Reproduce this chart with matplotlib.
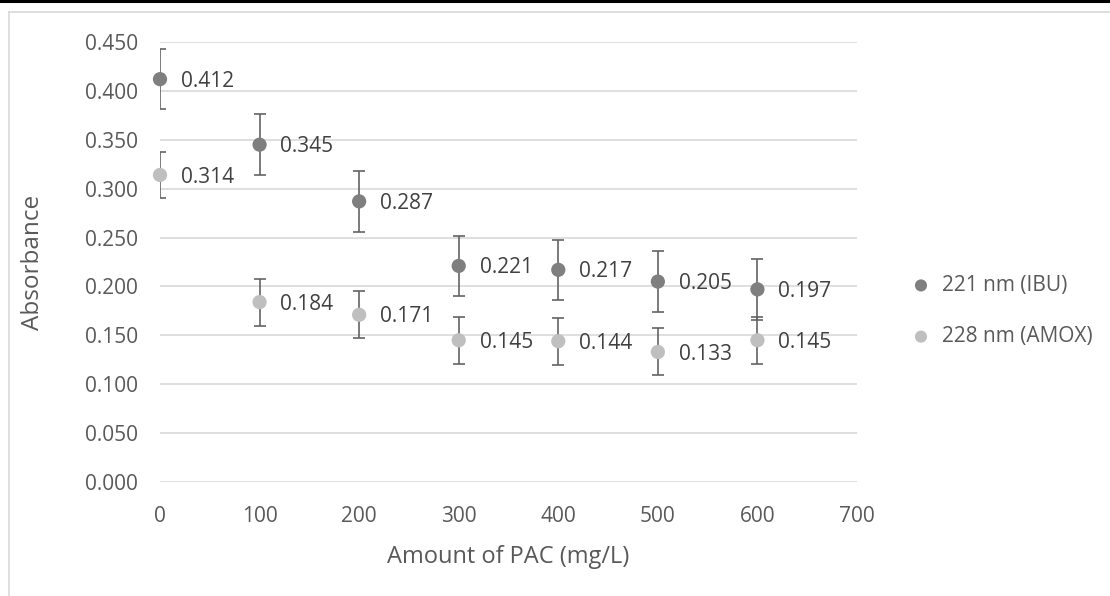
import matplotlib
matplotlib.use('Agg')
import matplotlib.pyplot as plt
from matplotlib.lines import Line2D
import numpy as np

# DATA
pac = [0, 100, 200, 300, 400, 500, 600]
ibu = [0.412, 0.345, 0.287, 0.221, 0.217, 0.205, 0.197]
amox = [0.314, 0.184, 0.171, 0.145, 0.144, 0.133, 0.145]
ibu_err = [0.031, 0.031, 0.031, 0.031, 0.031, 0.031, 0.031]
amox_err = [0.024, 0.024, 0.024, 0.024, 0.024, 0.024, 0.024]
series_names = ['221 nm (IBU)', '228 nm (AMOX)']
x_ticks = [0, 100, 200, 300, 400, 500, 600, 700]
y_ticks = [0.0, 0.05, 0.10, 0.15, 0.20, 0.25, 0.30, 0.35, 0.40, 0.45]

# STYLE
plt.rcParams['font.family'] = ['Open Sans', 'DejaVu Sans']
text_col = '#595959'
ibu_col = '#7f7f7f'
amox_col = '#bfbfbf'
err_col = '#636363'
grid_col = '#d9d9d9'

fig = plt.figure(figsize=(11.1, 5.96), dpi=100)

# frame lines like the cropped screenshot
fig.add_artist(Line2D([0, 1], [1 - 1.2 / 596, 1 - 1.2 / 596], color='black', lw=2.2))
fig.add_artist(Line2D([8.5 / 1110, 1], [1 - 12 / 596, 1 - 12 / 596], color=grid_col, lw=1.2))
fig.add_artist(Line2D([8.5 / 1110, 8.5 / 1110], [0, 1 - 12 / 596], color=grid_col, lw=1.2))

ax = fig.add_axes([160 / 1110, 1 - 482 / 596, 697 / 1110, 440 / 596])

for y, err, col, name in [(ibu, ibu_err, ibu_col, series_names[0]),
                          (amox, amox_err, amox_col, series_names[1])]:
    ax.errorbar(pac, y, yerr=err, fmt='none', ecolor=err_col, elinewidth=1.2,
                capsize=4.2, capthick=1.2, zorder=3)
    ax.scatter(pac, y, s=105, color=col, zorder=4, clip_on=False, label=name,
               edgecolors='none')
    for xi, yi in zip(pac, y):
        ax.annotate('%.3f' % yi, xy=(xi, yi), xytext=(15, -1.5), textcoords='offset points',
                    ha='left', va='center', fontsize=15, color='#404040')

ax.set_xlim(0, 700)
ax.set_ylim(0, 0.45)
ax.set_xticks(x_ticks)
ax.set_yticks(y_ticks)
ax.set_yticklabels(['%.3f' % v for v in y_ticks])
ax.tick_params(axis='both', length=0, labelsize=15, labelcolor=text_col)
ax.tick_params(axis='y', pad=16)
ax.tick_params(axis='x', pad=17)
ax.yaxis.grid(True, color=grid_col, lw=1.2)
ax.set_axisbelow(True)
for s in ax.spines.values():
    s.set_visible(False)

ax.set_xlabel('Amount of PAC (mg/L)', fontsize=17, color=text_col)
ax.set_ylabel('Absorbance', fontsize=17.5, color=text_col)
ax.xaxis.set_label_coords(0.5, (482 - 557) / 440)
ax.xaxis.label.set_va('center')
ax.yaxis.set_label_coords((33 - 160) / 697, 0.5)
ax.yaxis.label.set_va('center')

leg = ax.legend(loc='center left', bbox_to_anchor=(1.035, (482 - 311) / 440), frameon=False,
                fontsize=15, handletextpad=0.0, labelspacing=1.45, markerscale=0.85)
for t in leg.get_texts():
    t.set_color(text_col)

plt.savefig('out.png', dpi=100)
